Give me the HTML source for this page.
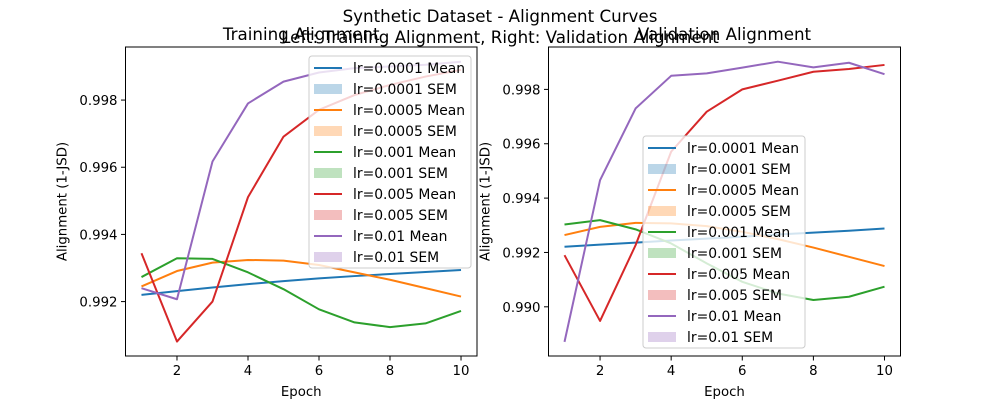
<!DOCTYPE html>
<html><head><meta charset="utf-8"><style>
body{margin:0;background:#fff;font-family:"Liberation Sans","DejaVu Sans",sans-serif;}
svg text{font-family:"DejaVu Sans","Liberation Sans",sans-serif;fill:#000}
</style></head><body>
<svg id="chart" width="1000" height="400" xmlns="http://www.w3.org/2000/svg">
<rect width="1000" height="400" fill="#fff"/>
<text x="500" y="22" font-size="16.7" text-anchor="middle">Synthetic Dataset - Alignment Curves</text>
<text x="500" y="43" font-size="16.7" text-anchor="middle">Left: Training Alignment, Right: Validation Alignment</text>
</svg>
<script>
const epochs=[1,2,3,4,5,6,7,8,9,10];
const labels=["lr=0.0001","lr=0.0005","lr=0.001","lr=0.005","lr=0.01"];
const colors=["#1f77b4","#ff7f0e","#2ca02c","#d62728","#9467bd"];
const trainLr0001=[0.9922,0.99231,0.99242,0.99252,0.99261,0.99269,0.99276,0.99282,0.99288,0.99294];
const trainLr0005=[0.99245,0.99291,0.99316,0.99324,0.99322,0.99309,0.99287,0.99265,0.9924,0.99215];
const trainLr001=[0.99273,0.99329,0.99327,0.99287,0.99237,0.99177,0.99138,0.99124,0.99135,0.99172];
const trainLr005=[0.99344,0.99081,0.992,0.99511,0.99691,0.99771,0.99815,0.99845,0.9987,0.9989];
const trainLr01=[0.9924,0.99207,0.99617,0.9979,0.99855,0.99882,0.99895,0.999,0.99905,0.99914];
const valLr0001=[0.99221,0.99229,0.99236,0.99244,0.99251,0.99258,0.99266,0.99273,0.9928,0.99288];
const valLr0005=[0.99264,0.99294,0.99309,0.99307,0.99297,0.99276,0.99249,0.99218,0.99184,0.9915];
const valLr001=[0.99303,0.99319,0.99285,0.99233,0.9916,0.99092,0.99049,0.99025,0.99037,0.99074];
const valLr005=[0.9919,0.98948,0.99227,0.99571,0.99718,0.998,0.99832,0.99865,0.99875,0.9989];
const valLr01=[0.98871,0.99466,0.9973,0.9985,0.99859,0.9988,0.99902,0.99881,0.99898,0.99856];
const xTicks=[2,4,6,8,10];
const trainYTicks=[0.992,0.994,0.996,0.998];
const valYTicks=[0.990,0.992,0.994,0.996,0.998];

const NS="http://www.w3.org/2000/svg";
const svg=document.getElementById('chart');
function mk(tag,attrs,parent){const e=document.createElementNS(NS,tag);for(const k in attrs)e.setAttribute(k,attrs[k]);(parent||svg).appendChild(e);return e;}

function panel(name,left,right,yMin,yMax,series,yTicks,title,legX,legY){
  const top=47,bottom=356;
  const g=mk('g',{});
  
  
  const xs=e=>left+(e-0.55)/(10.45-0.55)*(right-left);
  const ys=v=>bottom-(v-yMin)/(yMax-yMin)*(bottom-top);
  series.forEach((s,i)=>{
    const p=mk('polyline',{points:s.map((v,j)=>xs(epochs[j])+','+ys(v)).join(' '),fill:'none',stroke:colors[i],'stroke-width':2,'stroke-linejoin':'round'},g);
    
    
  });
  const fr=mk('rect',{x:left,y:top,width:right-left,height:bottom-top,fill:'none',stroke:'#000','stroke-width':1},g);
  
  
  xTicks.forEach(t=>{
    const x=xs(t);
    mk('line',{x1:x,x2:x,y1:bottom,y2:bottom+4.5,stroke:'#000','stroke-width':1},g);
    const tx=mk('text',{x:x,y:bottom+19,'font-size':13.3,'text-anchor':'middle'},g);tx.textContent=t;
    
    
  });
  yTicks.forEach(t=>{
    const y=ys(t);
    mk('line',{x1:left,x2:left-4.5,y1:y,y2:y,stroke:'#000','stroke-width':1},g);
    const tx=mk('text',{x:left-8,y:y+5,'font-size':13.3,'text-anchor':'end'},g);tx.textContent=t.toFixed(3);
    
    
  });
  const xl=mk('text',{x:(left+right)/2,y:396,'font-size':13.3,'text-anchor':'middle'},g);xl.textContent='Epoch';
  
  
  const yl=mk('text',{x:0,y:0,'font-size':13.3,'text-anchor':'middle',transform:`translate(${left-59},${(top+bottom)/2}) rotate(-90)`},g);yl.textContent='Alignment (1-JSD)';
  
  
  const tt=mk('text',{x:(left+right)/2,y:40,'font-size':16.7,'text-anchor':'middle'},g);tt.textContent=title;
  
  
  const lg=mk('g',{},g);
  
  
  mk('rect',{x:legX,y:legY,width:162,height:212,rx:3,fill:'#fff','fill-opacity':0.8,stroke:'#ccc'},lg);
  for(let i=0;i<10;i++){
    const k=Math.floor(i/2),y=legY+12+i*21;
    if(i%2===0) mk('line',{x1:legX+5,x2:legX+33,y1:y,y2:y,stroke:colors[k],'stroke-width':2},lg);
    else mk('rect',{x:legX+5,y:y-5,width:28,height:10,fill:colors[k],'fill-opacity':0.3},lg);
    const t=mk('text',{x:legX+44,y:y+5,'font-size':13.9},lg);
    t.textContent=labels[k]+(i%2===0?' Mean':' SEM');
    
    
  }
}
panel('training-panel',125.5,477,0.99038,0.99958,[trainLr0001,trainLr0005,trainLr001,trainLr005,trainLr01],trainYTicks,'Training Alignment',309,56);
panel('validation-panel',548.5,900.5,0.98819,0.99956,[valLr0001,valLr0005,valLr001,valLr005,valLr01],valYTicks,'Validation Alignment',643,136);
</script>
</body></html>
